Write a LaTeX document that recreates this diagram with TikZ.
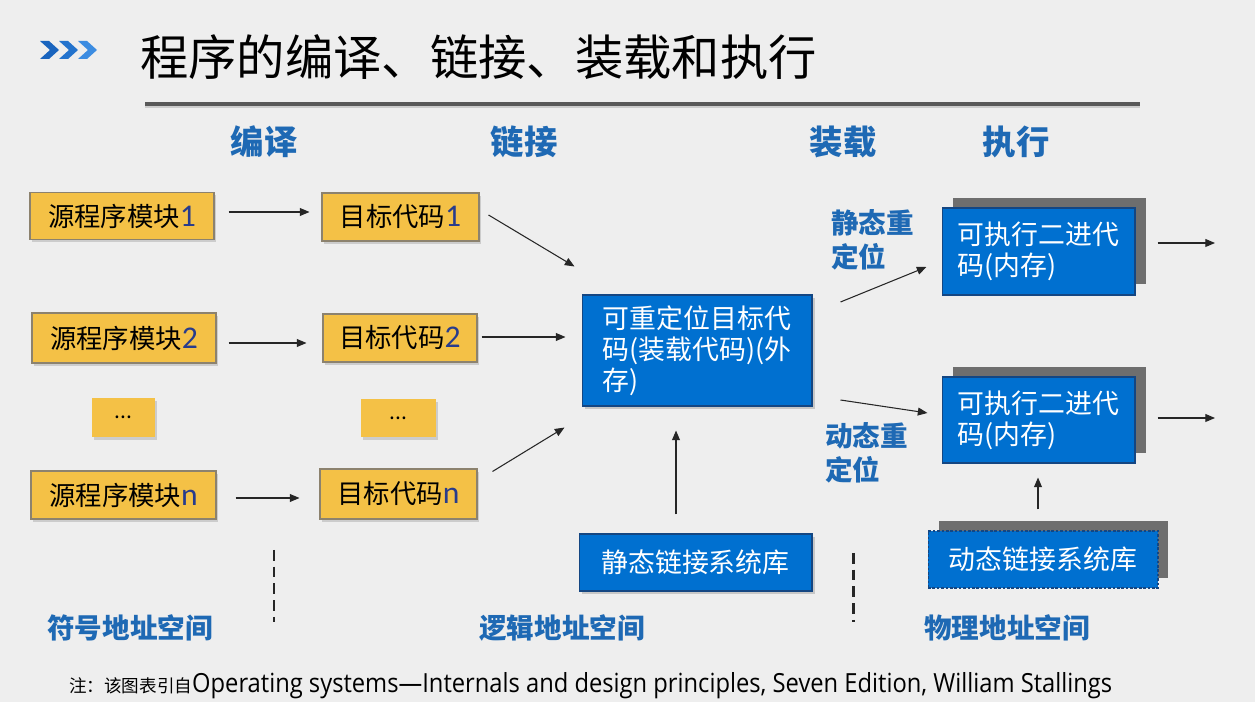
\documentclass[tikz,border=0pt]{standalone}
\usepackage{fontspec}
\setmainfont{Noto Sans CJK SC}
\newfontfamily\latinf{Open Sans}
\newfontfamily\numf[Scale=1.2]{Carlito}
\usetikzlibrary{arrows.meta,shadows}
\definecolor{bgc}{RGB}{238,238,238}
\definecolor{yfill}{RGB}{244,193,70}
\definecolor{ybord}{RGB}{140,130,110}
\definecolor{bfill}{RGB}{0,112,208}
\definecolor{bbord}{RGB}{20,70,130}
\definecolor{shadowgray}{RGB}{110,110,110}
\definecolor{lblue}{RGB}{30,105,180}
\definecolor{numblue}{RGB}{40,60,140}
\definecolor{chevA}{RGB}{25,100,190}
\definecolor{chevB}{RGB}{35,115,205}
\definecolor{chevC}{RGB}{60,140,225}
\newcommand{\fsz}[2]{\fontsize{#1}{#2}\selectfont}
\newcommand{\idx}[1]{{\numf\color{numblue}#1}}

\begin{document}
\begin{tikzpicture}[x=0.02cm,y=-0.02cm,
  ybox/.style={draw=ybord, line width=0.6pt, fill=yfill, inner sep=0pt,
    drop shadow={shadow xshift=1.2pt, shadow yshift=-1.5pt, opacity=0.3},
    font=\fsz{15pt}{17pt}},
  bbox/.style={draw=bbord, line width=0.6pt, fill=bfill, text=white, inner sep=0pt,
    font=\fsz{15.3pt}{17.6pt}, align=left},
  bshadow/.style={drop shadow={shadow xshift=1.5pt, shadow yshift=-1.8pt, opacity=0.35}},
  gshadow/.style={fill=shadowgray, inner sep=0pt},
  head/.style={text=lblue, font=\bfseries\fsz{19pt}{22pt}},
  lbl/.style={text=lblue, font=\bfseries\fsz{15.7pt}{19.3pt}, align=left},
  arr/.style={draw=black!85, line width=0.6pt, -{Triangle[length=5.5pt,width=4.5pt]}},
  sep/.style={draw=black!85, line width=1.7pt, dash pattern=on 6pt off 3.5pt}
]
% page and background
\fill[bgc] (0,0) rectangle (1255,702);
\useasboundingbox (0,0) rectangle (1255,702);

% title bar
\fill[chevA] (40,41) -- (49,41) -- (59,50) -- (49,59) -- (40,59) -- (50,50) -- cycle;
\fill[chevB] (59,41) -- (68,41) -- (78,50) -- (68,59) -- (59,59) -- (69,50) -- cycle;
\fill[chevC] (78,41) -- (87,41) -- (97,50) -- (87,59) -- (78,59) -- (88,50) -- cycle;
\node[anchor=west, font=\fsz{27.5pt}{30pt}] (title) at (134,57) {程序的编译、链接、装载和执行};
\draw[line width=2.2pt, gray!70!black] (145,104) -- (1140,104);
\draw[line width=1pt, gray!40] (145,107) -- (1140,107);

% stage headers
\node[head] (h1) at (264,142) {编译};
\node[head] (h2) at (524,142) {链接};
\node[head] (h3) at (843,142) {装载};
\node[head] (h4) at (1016,142) {执行};

% source modules and object code
\node[ybox, minimum width=3.68cm, minimum height=0.94cm] (S1) at (122,216) {源程序模块\idx{1}};
\node[ybox, minimum width=3.14cm, minimum height=0.96cm] (T1) at (400.5,217) {目标代码\idx{1}};
\node[ybox, minimum width=3.68cm, minimum height=1.0cm] (S2) at (124,338) {源程序模块\idx{2}};
\node[ybox, minimum width=3.08cm, minimum height=0.96cm] (T2) at (400,338) {目标代码\idx{2}};
\node[ybox, draw=none, minimum width=1.26cm, minimum height=0.78cm] (d1) at (123.5,417.5) {\fsz{12pt}{14pt}...};
\node[ybox, draw=none, minimum width=1.5cm, minimum height=0.76cm] (d2) at (398.5,418) {\fsz{12pt}{14pt}...};
\node[ybox, minimum width=3.7cm, minimum height=0.96cm] (Sn) at (123.5,495) {源程序模块\idx{n}};
\node[ybox, minimum width=3.14cm, minimum height=1.0cm] (Tn) at (398.5,494) {目标代码\idx{n}};

% relocatable code and static library
\node[bbox, bshadow, minimum width=4.6cm, minimum height=2.22cm] (R) at (697,350.5) {可重定位目标代\\码(装载代码)(外\\存)};
\node[bbox, bshadow, align=center, minimum width=4.66cm, minimum height=1.14cm] (L) at (695.5,562.5) {静态链接系统库};

% executables in memory
\node[gshadow, minimum width=3.86cm, minimum height=1.74cm] (E1s) at (1049.5,241) {};
\node[bbox, minimum width=3.86cm, minimum height=1.74cm] (E1) at (1038.5,251.5) {可执行二进代\\码(内存)};
\node[gshadow, minimum width=3.86cm, minimum height=1.72cm] (E2s) at (1049.5,410) {};
\node[bbox, minimum width=3.86cm, minimum height=1.72cm] (E2) at (1038.5,420) {可执行二进代\\码(内存)};

% dynamic library
\node[gshadow, minimum width=4.58cm, minimum height=1.14cm] (Ds) at (1053.5,549.5) {};
\node[bbox, align=center, dash pattern=on 1.5pt off 1pt, minimum width=4.6cm, minimum height=1.14cm] (D) at (1043,559.5) {动态链接系统库};

% relocation labels
\node[lbl, anchor=west] (srel) at (825,240) {静态重\\定位};
\node[lbl, anchor=west] (drel) at (819,453) {动态重\\定位};

% address space labels
\node[lbl] (a1) at (130,628) {符号地址空间};
\node[lbl] (a2) at (562,628) {逻辑地址空间};
\node[lbl] (a3) at (1007,628) {物理地址空间};

% separators
\draw[sep] (274,550) -- (274,622);
\draw[sep] (853,553) -- (853,622);

% connectors
\draw[arr] ([shift={(14,-4)}]S1.east) -- ([shift={(-12,-5)}]T1.west);
\draw[arr] ([shift={(12,5)}]S2.east) -- ([shift={(-16,5)}]T2.west);
\draw[arr] ([shift={(19,3)}]Sn.east) -- ([shift={(-20,4)}]Tn.west);
\draw[arr] ([shift={(9,-2)}]T1.east) -- ([shift={(-7,-28)}]R.north west);
\draw[arr] ([shift={(4,-1)}]T2.east) -- ([shift={(-16,-13.5)}]R.west);
\draw[arr] ([shift={(15,3)}]Tn.north east) -- ([shift={(-17,21)}]R.south west);
\draw[arr] ([shift={(-19.5,-19)}]L.north) -- ([shift={(-21,24)}]R.south);
\draw[arr] ([shift={(28,-48.5)}]R.east) -- ([shift={(-15,15.5)}]E1.west);
\draw[arr] ([shift={(28,49.5)}]R.east) -- ([shift={(-14,-7)}]E2.west);
\coordinate (o1) at (1215,243);
\coordinate (o2) at (1215,418);
\draw[arr] ([shift={(22,-8.5)}]E1.east) -- (o1);
\draw[arr] ([shift={(22,-2)}]E2.east) -- (o2);
\draw[arr] ([shift={(-5,-21)}]D.north) -- ([shift={(-0.5,14)}]E2.south);

% source note
\node[anchor=west] (note) at (63,686) {{\fsz{10pt}{12pt}注：该图表引自}\scalebox{0.9}[1]{\latinf\fsz{15pt}{17pt}Operating systems—Internals and design principles, Seven Edition, William Stallings}};
\end{tikzpicture}
\end{document}
